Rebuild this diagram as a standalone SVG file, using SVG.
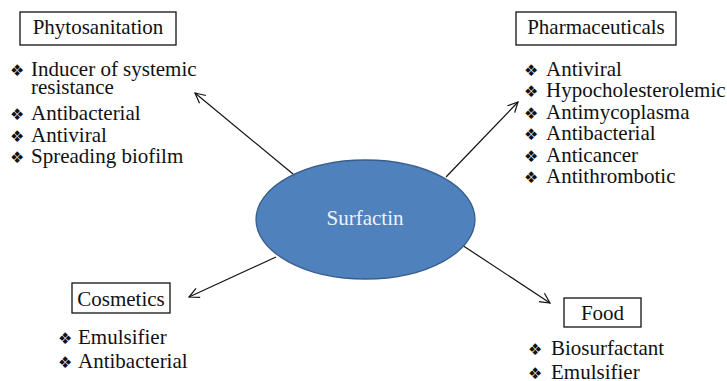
<svg xmlns="http://www.w3.org/2000/svg" width="727" height="381" viewBox="0 0 727 381">
<defs>
<style>
.t{font-family:"Liberation Serif","Times New Roman",serif;font-size:21px;fill:#111}
.b{font-family:"DejaVu Sans",sans-serif;font-size:16px;fill:#111}
.box{fill:#fff;stroke:#111;stroke-width:1.3}
.c{stroke:#111;stroke-width:1.2;fill:none}
</style>
<marker id="ah" viewBox="0 0 12 12" refX="11" refY="6" markerWidth="12" markerHeight="12" markerUnits="userSpaceOnUse" orient="auto">
<path d="M1,1 L11,6 L1,11" fill="none" stroke="#111" stroke-width="1.2"/>
</marker>
</defs>
<rect width="727" height="381" fill="#fff"/>
<g id="connectors">
<line class="c" x1="293" y1="174" x2="195" y2="93" marker-end="url(#ah)"/>
<line class="c" x1="446" y1="177" x2="518" y2="102" marker-end="url(#ah)"/>
<line class="c" x1="276" y1="257" x2="189" y2="297" marker-end="url(#ah)"/>
<line class="c" x1="462" y1="245" x2="550" y2="303" marker-end="url(#ah)"/>
</g>
<g id="surfactin">
<ellipse cx="365.5" cy="219.5" rx="109.5" ry="59.5" fill="#4F81BD" stroke="#385D8A" stroke-width="1.3"/>
<text class="t" x="365" y="225" text-anchor="middle" style="fill:#eef2f9">Surfactin</text>
</g>
<g id="phytosanitation">
<rect class="box" x="20" y="12" width="156" height="33"/>
<text class="t" x="98" y="34" text-anchor="middle">Phytosanitation</text>
<text class="b" x="10" y="76">❖</text><text class="t" x="31" y="76">Inducer of systemic</text>
<text class="t" x="31" y="94">resistance</text>
<text class="b" x="10" y="120">❖</text><text class="t" x="31" y="120">Antibacterial</text>
<text class="b" x="10" y="142">❖</text><text class="t" x="31" y="142">Antiviral</text>
<text class="b" x="10" y="163">❖</text><text class="t" x="31" y="163">Spreading biofilm</text>
</g>
<g id="pharmaceuticals">
<rect class="box" x="516" y="12" width="160" height="33"/>
<text class="t" x="596" y="34" text-anchor="middle">Pharmaceuticals</text>
<text class="b" x="524" y="76">❖</text><text class="t" x="546" y="76">Antiviral</text>
<text class="b" x="524" y="97">❖</text><text class="t" x="546" y="97">Hypocholesterolemic</text>
<text class="b" x="524" y="119">❖</text><text class="t" x="546" y="119">Antimycoplasma</text>
<text class="b" x="524" y="140">❖</text><text class="t" x="546" y="140">Antibacterial</text>
<text class="b" x="524" y="162">❖</text><text class="t" x="546" y="162">Anticancer</text>
<text class="b" x="524" y="183">❖</text><text class="t" x="546" y="183">Antithrombotic</text>
</g>
<g id="cosmetics">
<rect class="box" x="72" y="283" width="98" height="30"/>
<text class="t" x="121" y="306" text-anchor="middle">Cosmetics</text>
<text class="b" x="58" y="344">❖</text><text class="t" x="78" y="344">Emulsifier</text>
<text class="b" x="58" y="368">❖</text><text class="t" x="78" y="368">Antibacterial</text>
</g>
<g id="food">
<rect class="box" x="564" y="298" width="77" height="29"/>
<text class="t" x="602.5" y="320" text-anchor="middle">Food</text>
<text class="b" x="528" y="355">❖</text><text class="t" x="551" y="355">Biosurfactant</text>
<text class="b" x="528" y="379">❖</text><text class="t" x="551" y="379">Emulsifier</text>
</g>
</svg>
